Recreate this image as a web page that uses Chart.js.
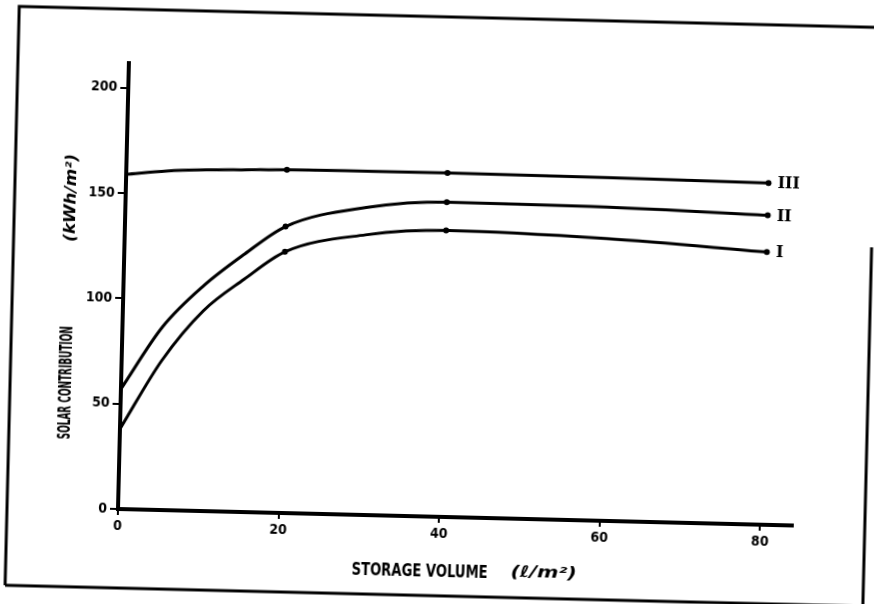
<!DOCTYPE html>
<html lang="en">
<head>
    <meta charset="UTF-8">
    <title>Solar contribution vs storage volume</title>
    <script src="https://cdn.jsdelivr.net/npm/chart.js@4.4.1/dist/chart.umd.min.js"></script>
    <style>
        html, body {
            margin: 0;
            padding: 0;
            background: #fff;
            overflow: hidden;
        }
        #wrap {
            position: absolute;
            left: 0;
            top: 0;
            width: 874px;
            height: 604px;
            /* the scan is a little skewed, rotate round the axis origin */
            transform-origin: 118px 509px;
            transform: rotate(1.4deg);
        }
    </style>
</head>
<body>
    <div id="wrap">
        <canvas id="chart" width="874" height="604"></canvas>
    </div>

    <script>
        // storage volume (l/m2)
        const volumes = [0, 5, 10, 15, 20, 30, 40, 60, 80];
        // solar contribution (kWh/m2) per curve
        const curveI   = [38, 71, 95, 110.5, 124, 133, 136, 134, 129.5];
        const curveII  = [57, 87, 107, 122.5, 136, 146, 149.5, 149, 147];
        const curveIII = [159, 161, 162, 162.5, 163, 163.2, 163.3, 163, 162.3];
        const curveNames = ['I', 'II', 'III'];
        // dots only where the original marks them
        const markedAt = [20, 40, 80];

        const xTicks = [0, 20, 40, 60, 80];
        const yTicks = [0, 50, 100, 150, 200];

        const xTitle = ['STORAGE VOLUME', '(\u2113/m\u00b2)'];
        const yTitle = ['SOLAR CONTRIBUTION', '(kWh/m\u00b2)'];

        const tickFont = { family: "'DejaVu Sans Condensed', 'Liberation Sans Narrow', sans-serif", size: 14, weight: 'bold' };

        function toPoints(values) {
            return volumes.map((v, i) => ({ x: v, y: values[i] }));
        }

        function makeDataset(name, values) {
            return {
                label: name,
                data: toPoints(values),
                borderColor: '#000',
                backgroundColor: '#000',
                borderWidth: 3,
                cubicInterpolationMode: 'monotone',
                pointRadius: volumes.map(v => markedAt.includes(v) ? 3 : 0),
                pointBorderWidth: 0
            };
        }

        // draw text squeezed/stretched to a given width
        function fitText(ctx, text, cx, cy, width, font, angle) {
            ctx.save();
            ctx.font = font;
            ctx.textAlign = 'center';
            ctx.textBaseline = 'middle';
            ctx.translate(cx, cy);
            ctx.rotate(angle);
            ctx.scale(width / ctx.measureText(text).width, 1);
            ctx.fillText(text, 0, 0);
            ctx.restore();
        }

        // frame, axis titles and the roman numerals at the curve ends
        const scanExtras = {
            id: 'scanExtras',
            afterDraw(chart) {
                const ctx = chart.ctx;
                ctx.save();
                ctx.strokeStyle = '#000';
                ctx.lineWidth = 3;
                ctx.beginPath();
                ctx.moveTo(865, 229);
                ctx.lineTo(865, 588);
                ctx.moveTo(7, 588);
                ctx.lineTo(7, 9);
                ctx.lineTo(874, 9);
                ctx.moveTo(7, 588);
                ctx.lineTo(874, 588);
                ctx.stroke();

                ctx.fillStyle = '#000';
                const capsFont = "bold 18px 'DejaVu Sans Condensed', sans-serif";
                const unitFont = "italic bold 16px 'DejaVu Sans', sans-serif";
                fitText(ctx, xTitle[0], 421, 564, 136, capsFont, 0);
                fitText(ctx, xTitle[1], 545, 563, 66, unitFont, 0);
                fitText(ctx, yTitle[0], 63, 384, 113, capsFont, -Math.PI / 2);
                fitText(ctx, yTitle[1], 64, 199, 88, unitFont, -Math.PI / 2);

                ctx.font = "bold 16px 'DejaVu Serif', 'Liberation Serif', serif";
                ctx.textAlign = 'left';
                ctx.textBaseline = 'middle';
                chart.data.datasets.forEach((ds, i) => {
                    const pts = chart.getDatasetMeta(i).data;
                    const last = pts[pts.length - 1];
                    ctx.fillText(ds.label, last.x + 9, last.y + 1);
                });
                ctx.restore();
            }
        };

        new Chart(document.getElementById('chart'), {
            type: 'line',
            data: {
                datasets: [
                    makeDataset(curveNames[2], curveIII),
                    makeDataset(curveNames[1], curveII),
                    makeDataset(curveNames[0], curveI)
                ]
            },
            options: {
                responsive: false,
                animation: false,
                layout: {
                    padding: { left: 0, right: 81.5, top: 62.5, bottom: 0 }
                },
                plugins: {
                    legend: { display: false },
                    tooltip: { enabled: false }
                },
                scales: {
                    x: {
                        type: 'linear',
                        position: 'bottom',
                        min: 0,
                        max: 84,
                        afterFit: s => { s.height = 95; },
                        afterBuildTicks: s => { s.ticks = xTicks.map(v => ({ value: v })); },
                        grid: { drawOnChartArea: false, drawTicks: true, tickLength: 6, color: '#000', lineWidth: 2 },
                        border: { display: true, color: '#000', width: 4 },
                        ticks: { color: '#000', font: tickFont, padding: 3, maxRotation: 0 }
                    },
                    y: {
                        type: 'linear',
                        position: 'left',
                        min: 0,
                        max: 212,
                        afterFit: s => { s.width = 118; },
                        afterBuildTicks: s => { s.ticks = yTicks.map(v => ({ value: v })); },
                        grid: { drawOnChartArea: false, drawTicks: true, tickLength: 8, color: '#000', lineWidth: 2 },
                        border: { display: true, color: '#000', width: 4 },
                        ticks: { color: '#000', font: tickFont, padding: 3 }
                    }
                }
            },
            plugins: [scanExtras]
        });
    </script>
</body>
</html>
